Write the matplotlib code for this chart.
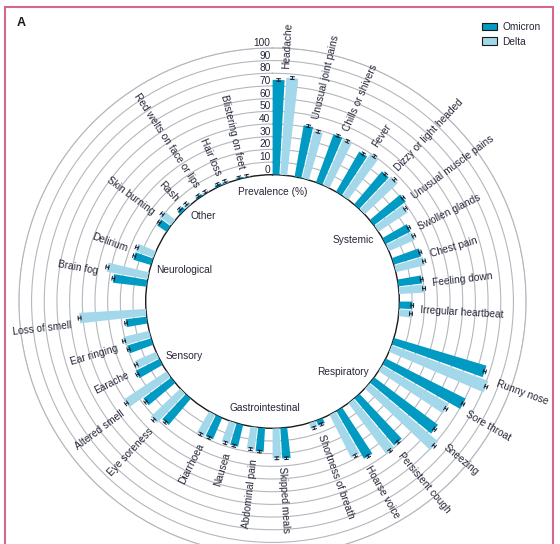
import numpy as np
import matplotlib
matplotlib.use('Agg')
import matplotlib.pyplot as plt
from matplotlib.patches import Patch, Rectangle
from matplotlib import transforms

plt.rcParams['font.family'] = ['Liberation Sans', 'DejaVu Sans']

# ---------------- data ----------------
groups = ['Systemic', 'Respiratory', 'Gastrointestinal', 'Sensory', 'Neurological', 'Other']
group_sizes = [10, 6, 4, 5, 2, 5]
symptoms = [
    'Headache', 'Unusual joint pains', 'Chills or shivers', 'Fever', 'Dizzy or light headed',
    'Unusual muscle pains', 'Swollen glands', 'Chest pain', 'Feeling down', 'Irregular heartbeat',
    'Runny nose', 'Sore throat', 'Sneezing', 'Persistent cough', 'Hoarse voice', 'Shortness of breath',
    'Skipped meals', 'Abdominal pain', 'Nausea', 'Diarrhoea',
    'Eye soreness', 'Altered smell', 'Earache', 'Ear ringing', 'Loss of smell',
    'Brain fog', 'Delirium',
    'Skin burning', 'Rash', 'Red welts on face or lips', 'Hair loss', 'Blistering on feet',
]
omicron = [74.8, 41.2, 40.5, 36.6, 34.1, 31.4, 22.2, 22.8, 18.9, 10.3,
           76.2, 70.5, 62.8, 48.6, 43.5, 4.3,
           24.1, 18.8, 17.7, 18.5,
           27.2, 27.4, 21.0, 19.6, 16.7,
           26.8, 14.7,
           9.0, 3.2, 1.8, 2.0, 1.2]
delta = [76.9, 38.7, 39.5, 39.9, 36.0, 27.9, 22.8, 23.7, 20.0, 9.6,
         81.3, 60.8, 70.9, 49.8, 38.1, 5.0,
         23.7, 17.7, 17.5, 19.1,
         32.2, 40.4, 18.5, 21.2, 52.7,
         33.0, 15.1,
         11.0, 2.8, 1.5, 2.0, 1.0]
omicron_err = [1.0] * len(symptoms)
delta_err = [1.1] * len(symptoms)
tick_values = [0, 10, 20, 30, 40, 50, 60, 70, 80, 90, 100]
series_names = ['Omicron', 'Delta']

# ---------------- style ----------------
c_omi = '#009ac2'
c_del = '#a2d8ea'
c_txt = '#262638'
c_grid = '#b3b8be'
fs = 7.3

W, H = 560, 544
fig = plt.figure(figsize=(W / 100, H / 100), dpi=100)

cx, cy = 272.5, 301.5          # centre in pixels (from top-left)
R_out = 253.6                  # radius of 100% ring in pixels
ax = fig.add_axes([(cx - R_out) / W, 1 - (cy + R_out) / H, 2 * R_out / W, 2 * R_out / H],
                  projection='polar')
ax.set_theta_zero_location('N')
ax.set_theta_direction(-1)
ax.set_rorigin(-100)
ax.set_rlim(0, 100)
ax.set_xticks([])
ax.set_yticks(tick_values[1:])
ax.set_yticklabels([])
ax.grid(axis='y', color=c_grid, lw=0.8)
ax.set_axisbelow(True)
ax.spines['polar'].set_color(c_grid)
ax.spines['polar'].set_linewidth(0.8)
ax.spines['inner'].set_color('#1a1a1a')
ax.spines['inner'].set_linewidth(1.0)
px_per_unit = R_out / 200.0

# angular layout
unit = 10.0
gap_extra = 20.0 / 3
start = 10.0 / 3
angles = []
t = start
for n in group_sizes:
    for _ in range(n):
        angles.append(t)
        t += unit
    t += gap_extra
angles = np.array(angles)
th = np.deg2rad(angles)
off = np.deg2rad(1.75)
bw = np.deg2rad(3.1)

om = np.array(omicron)
de = np.array(delta)
oe = np.array(omicron_err)
dee = np.array(delta_err)

ax.bar(th - off, om, width=bw, bottom=0, color=c_omi, lw=0, zorder=3)
ax.bar(th + off, de, width=bw, bottom=0, color=c_del, lw=0, zorder=3)

def errbars(thetas, vals, errs):
    for tt, v, e in zip(thetas, vals, errs):
        lo, hi = max(v - e, 0), v + e
        ax.plot([tt, tt], [lo, hi], color='#1a1a2a', lw=0.7, zorder=4)
        for r in (lo, hi):
            rpx = (r + 100) * px_per_unit
            d = 1.9 / rpx
            ax.plot(np.linspace(tt - d, tt + d, 5), [r] * 5, color='#1a1a2a', lw=0.7, zorder=4)

errbars(th - off, om, oe)
errbars(th + off, de, dee)

# category labels
for a, tt, name, o, d, e1, e2 in zip(angles, th, symptoms, om, de, oe, dee):
    r = max(o + e1, d + e2) + 5.5
    if a < 180:
        rot, ha = 90 - a, 'left'
    else:
        rot, ha = 270 - a, 'right'
    ax.text(tt, r, name, rotation=rot, rotation_mode='anchor', ha=ha, va='center',
            fontsize=fs, color=c_txt, clip_on=False)

# group labels (inside the circle)
group_label_pos = {
    'Systemic': (58.8, -6.5, 'right', 'center'),
    'Respiratory': (126.0, -6.0, 'right', 'center'),
    'Gastrointestinal': (184.0, -12.0, 'center', 'bottom'),
    'Sensory': (243.0, -5.5, 'left', 'center'),
    'Neurological': (285.0, -5.0, 'left', 'center'),
    'Other': (316.5, -6.5, 'left', 'center'),
}
for g in groups:
    a, r, ha, va = group_label_pos[g]
    ax.text(np.deg2rad(a), r, g, ha=ha, va=va, fontsize=fs, color=c_txt, clip_on=False)
ax.text(0, -9.5, 'Prevalence (%)', ha='center', va='top', fontsize=fs, color=c_txt, clip_on=False)

# radial tick labels
tr = transforms.offset_copy(ax.transData, fig=fig, x=-2, y=5, units='dots')
for v in tick_values:
    ax.text(0, v, str(v), transform=tr, ha='right', va='center', fontsize=fs,
            color=c_txt, clip_on=False)

# legend
handles = [Patch(facecolor=c_omi, edgecolor='#1a1a1a', lw=0.8),
           Patch(facecolor=c_del, edgecolor='#1a1a1a', lw=0.8)]
fig.legend(handles, series_names, loc='upper left', bbox_to_anchor=(482 / W, 1 - 22 / H),
           frameon=False, fontsize=fs, handlelength=1.5, handleheight=0.7,
           handletextpad=0.5, labelspacing=0.45, borderpad=0, borderaxespad=0,
           labelcolor=c_txt)

# panel letter and frame
fig.text(17 / W, 1 - 23 / H, 'A', fontsize=9, fontweight='bold', color='#1a1a1a',
         va='center', ha='left')
fig.patches.append(Rectangle((5 / W, -0.05), (553 - 5) / W, 1.05 - 7 / H,
                             transform=fig.transFigure, fill=False,
                             edgecolor='#d4678d', lw=1.5, zorder=10))

fig.savefig('out.png', dpi=100)
